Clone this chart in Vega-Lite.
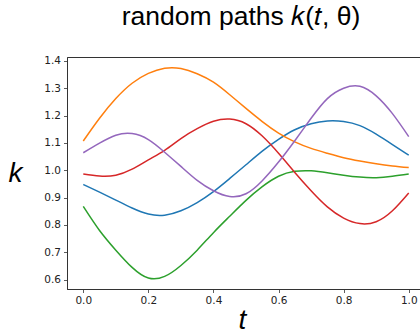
{
  "$schema": "https://vega.github.io/schema/vega-lite/v6.json",
  "autosize": "none",
  "width": 358,
  "height": 232,
  "padding": {"left": 67, "top": 57, "right": 0, "bottom": 46},
  "background": "white",
  "title": {
    "text": "random paths 𝑘(𝑡, θ)",
    "font": "Liberation Sans",
    "fontSize": 26.5,
    "fontWeight": "normal",
    "color": "#000",
    "anchor": "middle",
    "frame": "group",
    "baseline": "alphabetic",
    "offset": 4,
    "dx": -5
  },
  "config": {
    "view": {"stroke": "#333", "strokeWidth": 1},
    "axis": {
      "grid": false,
      "domainColor": "#333",
      "domainWidth": 1,
      "tickColor": "#333",
      "tickSize": 3.5,
      "tickWidth": 0.8,
      "labelFont": "DejaVu Sans",
      "labelFontSize": 10.5,
      "labelColor": "#222",
      "labelPadding": 3,
      "titleFont": "Liberation Sans",
      "titleFontStyle": "italic",
      "titleFontWeight": "normal",
      "titleFontSize": 28,
      "titleColor": "#000"
    }
  },
  "data": {
    "values": [
      {"s": "0", "t": 0, "k": 0.948}, {"s": "0", "t": 0.05, "k": 0.92}, {"s": "0", "t": 0.1, "k": 0.891}, {"s": "0", "t": 0.15, "k": 0.862}, {"s": "0", "t": 0.2, "k": 0.84}, {"s": "0", "t": 0.25, "k": 0.836}, {"s": "0", "t": 0.3, "k": 0.852}, {"s": "0", "t": 0.35, "k": 0.882}, {"s": "0", "t": 0.4, "k": 0.922}, {"s": "0", "t": 0.45, "k": 0.97}, {"s": "0", "t": 0.5, "k": 1.02}, {"s": "0", "t": 0.55, "k": 1.07}, {"s": "0", "t": 0.6, "k": 1.113}, {"s": "0", "t": 0.65, "k": 1.148}, {"s": "0", "t": 0.7, "k": 1.17}, {"s": "0", "t": 0.75, "k": 1.18}, {"s": "0", "t": 0.8, "k": 1.178}, {"s": "0", "t": 0.85, "k": 1.163}, {"s": "0", "t": 0.9, "k": 1.132}, {"s": "0", "t": 0.95, "k": 1.094}, {"s": "0", "t": 1.0, "k": 1.055},
      {"s": "1", "t": 0, "k": 1.107}, {"s": "1", "t": 0.05, "k": 1.19}, {"s": "1", "t": 0.1, "k": 1.262}, {"s": "1", "t": 0.15, "k": 1.318}, {"s": "1", "t": 0.2, "k": 1.354}, {"s": "1", "t": 0.25, "k": 1.373}, {"s": "1", "t": 0.3, "k": 1.372}, {"s": "1", "t": 0.35, "k": 1.353}, {"s": "1", "t": 0.4, "k": 1.322}, {"s": "1", "t": 0.45, "k": 1.276}, {"s": "1", "t": 0.5, "k": 1.226}, {"s": "1", "t": 0.55, "k": 1.178}, {"s": "1", "t": 0.6, "k": 1.136}, {"s": "1", "t": 0.65, "k": 1.104}, {"s": "1", "t": 0.7, "k": 1.08}, {"s": "1", "t": 0.75, "k": 1.062}, {"s": "1", "t": 0.8, "k": 1.046}, {"s": "1", "t": 0.85, "k": 1.034}, {"s": "1", "t": 0.9, "k": 1.024}, {"s": "1", "t": 0.95, "k": 1.016}, {"s": "1", "t": 1.0, "k": 1.01},
      {"s": "2", "t": 0, "k": 0.868}, {"s": "2", "t": 0.05, "k": 0.78}, {"s": "2", "t": 0.1, "k": 0.708}, {"s": "2", "t": 0.15, "k": 0.645}, {"s": "2", "t": 0.2, "k": 0.606}, {"s": "2", "t": 0.25, "k": 0.612}, {"s": "2", "t": 0.3, "k": 0.652}, {"s": "2", "t": 0.35, "k": 0.708}, {"s": "2", "t": 0.4, "k": 0.772}, {"s": "2", "t": 0.45, "k": 0.832}, {"s": "2", "t": 0.5, "k": 0.89}, {"s": "2", "t": 0.55, "k": 0.94}, {"s": "2", "t": 0.6, "k": 0.978}, {"s": "2", "t": 0.65, "k": 0.996}, {"s": "2", "t": 0.7, "k": 0.998}, {"s": "2", "t": 0.75, "k": 0.991}, {"s": "2", "t": 0.8, "k": 0.982}, {"s": "2", "t": 0.85, "k": 0.975}, {"s": "2", "t": 0.9, "k": 0.973}, {"s": "2", "t": 0.95, "k": 0.978}, {"s": "2", "t": 1.0, "k": 0.986},
      {"s": "3", "t": 0, "k": 0.986}, {"s": "3", "t": 0.05, "k": 0.979}, {"s": "3", "t": 0.1, "k": 0.982}, {"s": "3", "t": 0.15, "k": 1.004}, {"s": "3", "t": 0.2, "k": 1.038}, {"s": "3", "t": 0.25, "k": 1.073}, {"s": "3", "t": 0.3, "k": 1.116}, {"s": "3", "t": 0.35, "k": 1.152}, {"s": "3", "t": 0.4, "k": 1.179}, {"s": "3", "t": 0.45, "k": 1.187}, {"s": "3", "t": 0.5, "k": 1.17}, {"s": "3", "t": 0.55, "k": 1.125}, {"s": "3", "t": 0.6, "k": 1.062}, {"s": "3", "t": 0.65, "k": 0.992}, {"s": "3", "t": 0.7, "k": 0.925}, {"s": "3", "t": 0.75, "k": 0.866}, {"s": "3", "t": 0.8, "k": 0.825}, {"s": "3", "t": 0.85, "k": 0.805}, {"s": "3", "t": 0.9, "k": 0.812}, {"s": "3", "t": 0.95, "k": 0.852}, {"s": "3", "t": 1.0, "k": 0.917},
      {"s": "4", "t": 0, "k": 1.064}, {"s": "4", "t": 0.05, "k": 1.099}, {"s": "4", "t": 0.1, "k": 1.128}, {"s": "4", "t": 0.15, "k": 1.134}, {"s": "4", "t": 0.2, "k": 1.112}, {"s": "4", "t": 0.25, "k": 1.066}, {"s": "4", "t": 0.3, "k": 1.014}, {"s": "4", "t": 0.35, "k": 0.963}, {"s": "4", "t": 0.4, "k": 0.925}, {"s": "4", "t": 0.45, "k": 0.904}, {"s": "4", "t": 0.5, "k": 0.914}, {"s": "4", "t": 0.55, "k": 0.962}, {"s": "4", "t": 0.6, "k": 1.03}, {"s": "4", "t": 0.65, "k": 1.108}, {"s": "4", "t": 0.7, "k": 1.19}, {"s": "4", "t": 0.75, "k": 1.262}, {"s": "4", "t": 0.8, "k": 1.3}, {"s": "4", "t": 0.85, "k": 1.307}, {"s": "4", "t": 0.9, "k": 1.272}, {"s": "4", "t": 0.95, "k": 1.207}, {"s": "4", "t": 1.0, "k": 1.123}
    ]
  },
  "mark": {"type": "line", "strokeWidth": 1.5, "interpolate": "natural", "clip": true},
  "encoding": {
    "x": {
      "field": "t", "type": "quantitative",
      "scale": {"domain": [-0.05, 1.05], "nice": false, "zero": false},
      "axis": {"title": "t", "values": [0, 0.2, 0.4, 0.6, 0.8, 1.0], "format": ".1f",
               "titleX": 175, "titleY": 39, "titleAlign": "center", "titleBaseline": "alphabetic"}
    },
    "y": {
      "field": "k", "type": "quantitative",
      "scale": {"domain": [0.566, 1.414], "nice": false, "zero": false},
      "axis": {"title": "k", "values": [0.6, 0.7, 0.8, 0.9, 1.0, 1.1, 1.2, 1.3, 1.4], "format": ".1f",
               "titleAngle": 0, "titleX": -52, "titleY": 116, "titleAlign": "center", "titleBaseline": "middle"}
    },
    "color": {
      "field": "s", "type": "nominal", "legend": null,
      "scale": {"domain": ["0", "1", "2", "3", "4"], "range": ["#1f77b4", "#ff7f0e", "#2ca02c", "#d62728", "#9467bd"]}
    }
  }
}
